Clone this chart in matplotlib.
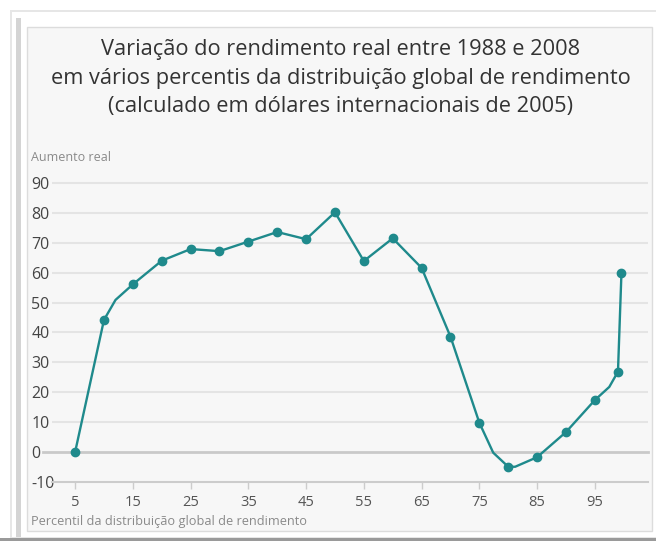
import matplotlib.pyplot as plt
from matplotlib.patches import Rectangle

plt.rcParams['font.family'] = ['Open Sans', 'DejaVu Sans']

# percentil da distribuição global e aumento real (%) entre 1988 e 2008
percentil = [5, 10, 12, 15, 20, 25, 30, 35, 40, 45, 50, 55, 60, 65, 70,
             75, 77.4, 80, 81.2, 85, 90, 95, 97.5, 99, 99.6]
aumento = [0, 44.2, 50.9, 56.1, 64.0, 67.9, 67.2, 70.4, 73.6, 71.2, 80.2,
           63.9, 71.5, 61.6, 38.6, 9.8, -0.2, -4.9, -4.9, -1.7, 6.7, 17.4,
           21.8, 26.9, 59.8]
# pontos com marcador (os outros são só vértices da linha)
com_marcador = [5, 10, 15, 20, 25, 30, 35, 40, 45, 50, 55, 60, 65, 70,
                75, 80, 85, 90, 95, 99, 99.6]

titulo = ["Variação do rendimento real entre 1988 e 2008",
          "em vários percentis da distribuição global de rendimento",
          "(calculado em dólares internacionais de 2005)"]
y_ticks = [-10, 0, 10, 20, 30, 40, 50, 60, 70, 80, 90]
x_ticks = [5, 15, 25, 35, 45, 55, 65, 75, 85, 95]

W, H = 656, 541
teal = '#1f8a8c'

fig = plt.figure(figsize=(W / 100, H / 100), dpi=100, facecolor='white')


def box(x0, y0, x1, y1, **kw):
    # rectangle given in pixel coords (origin top-left)
    r = Rectangle((x0 / W, 1 - y1 / H), (x1 - x0) / W, (y1 - y0) / H,
                  transform=fig.transFigure, **kw)
    fig.add_artist(r)


# moldura
box(10, 10, W + 5, H + 5, facecolor='#e6e6e6', edgecolor='none', zorder=-5)
box(12, 12, W + 5, 537, facecolor='white', edgecolor='none', zorder=-4)
box(16, 18, 21, 537, facecolor='#d4d4d4', edgecolor='none', zorder=-3)
box(27, 27, 652, 531, facecolor='#f7f7f7', edgecolor='#dcdcdc', lw=1, zorder=-2)
box(0, 538, W, H, facecolor='#9a9a9a', edgecolor='none', zorder=-1)

ax = fig.add_axes([52 / W, 1 - 482 / H, (648 - 52) / W, (482 - 177) / H])
ax.set_facecolor('none')
ax.set_xlim(1.0, 104.2)
ax.set_ylim(-10, 92)

for v in y_ticks:
    if v == -10:
        continue
    if v == 0:
        ax.axhline(0, xmin=-0.015, color='#c9c9c9', lw=2, zorder=1, clip_on=False)
    else:
        ax.axhline(v, color='#e4e4e4', lw=1.5, zorder=1)

idx = [percentil.index(p) for p in com_marcador]
ax.plot(percentil, aumento, color=teal, lw=1.7, marker='o', markersize=6,
        markevery=idx, zorder=3, solid_joinstyle='round')

for s in ['top', 'right', 'left']:
    ax.spines[s].set_visible(False)
ax.spines['bottom'].set_color('#cccccc')
ax.spines['bottom'].set_linewidth(1.5)

ax.set_xticks(x_ticks)
ax.set_xticklabels([str(t) for t in x_ticks])
ax.tick_params(axis='x', direction='out', length=5, width=1, color='#cccccc',
               labelsize=10.5, labelcolor='#555555', pad=4)
ax.set_yticks(y_ticks)
ax.set_yticklabels([str(t) for t in y_ticks], ha='left')
ax.tick_params(axis='y', length=0, pad=15, labelsize=11.5, labelcolor='#444444')

for linha, base in zip(titulo, [55, 84, 112]):
    fig.text(341 / W, 1 - base / H, linha, ha='center', va='baseline',
             fontsize=15.7, color='#333333')

fig.text(31 / W, 1 - 158 / H, "Aumento real", ha='left', va='center',
         fontsize=9, color='#8a8a8a')
fig.text(31 / W, 1 - 521 / H, "Percentil da distribuição global de rendimento",
         ha='left', va='center', fontsize=9.2, color='#8a8a8a')

fig.savefig('out.png', dpi=100, facecolor=fig.get_facecolor())
